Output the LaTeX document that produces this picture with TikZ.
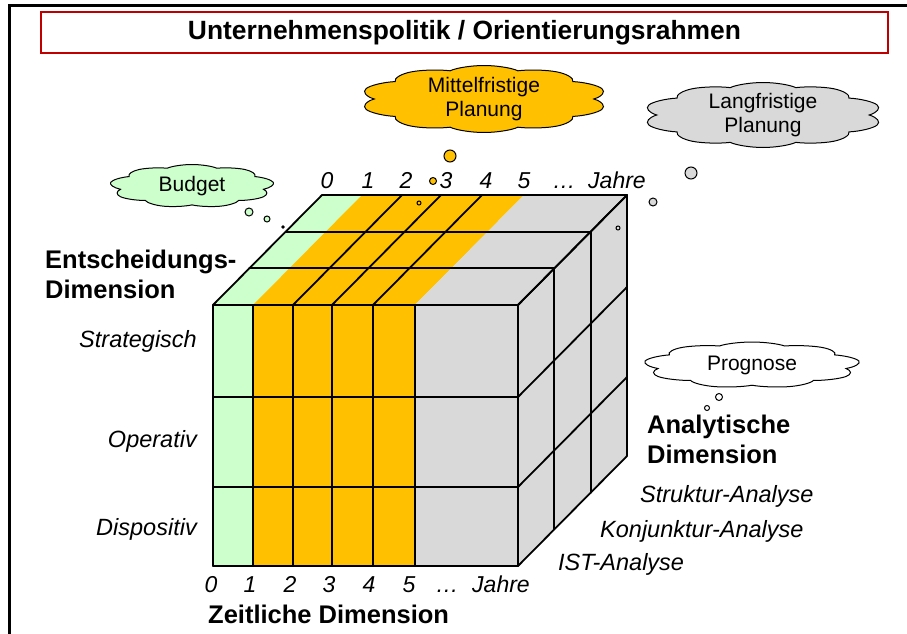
\documentclass[tikz,border=0pt]{standalone}
\usepackage{fontspec}
\setmainfont{Liberation Sans}
\usetikzlibrary{shapes.symbols}
\definecolor{gelb}{HTML}{FFC000}
\definecolor{gruen}{HTML}{CCFFCC}
\definecolor{grau}{HTML}{D9D9D9}
\definecolor{rot}{HTML}{C00000}
\newcommand\meinewolke[8]{%
  \begin{scope}[shift={(#2,#3)}, xscale=#4/60, yscale=#5/60]
    \node[wolke, cloud puffs=#8, fill=#6] (#1) at (0,0) {};
  \end{scope}
  \node[wtext] (#1-t) at (#2,#3) {#7};}
\begin{document}
\begin{tikzpicture}[x=1pt,y=-1pt,
  grid/.style={line width=1.8pt, line join=round, line cap=round},
  itl/.style={font=\fontsize{23.5}{26}\selectfont\itshape, inner sep=0},
  num/.style={font=\fontsize{23}{26}\selectfont\itshape, inner sep=0, anchor=base},
  bfl/.style={font=\fontsize{25.5}{30}\selectfont\bfseries, inner sep=0, anchor=base west},
  wolke/.style={cloud, cloud puff arc=120, cloud ignores aspect, draw, line width=1pt, inner sep=0,
    minimum width=60, minimum height=60, transform shape},
  wtext/.style={inner sep=0, font=\fontsize{21}{24.5}\selectfont, align=center},
  blase/.style={circle, draw, line width=1pt, inner sep=0}]
\useasboundingbox (0,0) rectangle (907,634);

% outer frame
\draw[line width=3pt] (9.5,634) -- (9.5,5.5) -- (907,5.5);

% title
\node[draw=rot, line width=2.5pt, minimum width=847, minimum height=41, inner sep=0,
  font=\fontsize{26.4}{30}\selectfont\bfseries] (titel) at (464.5,32.5)
  {Unternehmenspolitik / Orientierungsrahmen};

% cube fills
\fill[gruen] (213,305) -- (253,305) -- (362,195) -- (322,195) -- cycle;
\fill[gelb] (253,305) -- (415,305) -- (524,195) -- (362,195) -- cycle;
\fill[grau] (415,305) -- (518,305) -- (627,195) -- (524,195) -- cycle;
\fill[grau] (518,305) -- (627,195) -- (627,456) -- (518,566) -- cycle;
\fill[gruen] (213,305) rectangle (253,566);
\fill[gelb] (253,305) rectangle (415,566);
\fill[grau] (415,305) rectangle (518,566);

% cube lines
\foreach \x in {213,253,293,332,373,415,518} \draw[grid] (\x,305) -- (\x,566);
\foreach \y in {305,397,487,566} \draw[grid] (213,\y) -- (518,\y);
\foreach \k in {1,2,3} \draw[grid] ({213+\k*36.333},{305-\k*36.667}) -- ({518+\k*36.333},{305-\k*36.667});
\foreach \x in {213,293,332,373,518} \draw[grid] (\x,305) -- ++(109,-110);
\foreach \y in {305,397,487,566} \draw[grid] (518,\y) -- ++(109,-110);
\foreach \k in {1,2,3} \draw[grid] ({518+\k*36.333},{305-\k*36.667}) -- ({518+\k*36.333},{566-\k*36.667});

% top numbers
\node[num] (t0) at (327,188) {0};
\node[num] (t1) at (368,188) {1};
\node[num] (t2) at (406,188) {2};
\node[num] (t3) at (446,188) {3};
\node[num] (t4) at (486,188) {4};
\node[num] (t5) at (524,188) {5};
\node[num] (tdots) at (564,188) {\dots};
\node[num] (tjahre) at (617,188) {Jahre};

% bottom numbers
\node[num] (b0) at (211,592) {0};
\node[num] (b1) at (250,592) {1};
\node[num] (b2) at (290,592) {2};
\node[num] (b3) at (329,592) {3};
\node[num] (b4) at (369,592) {4};
\node[num] (b5) at (409,592) {5};
\node[num] (bdots) at (447,592) {\dots};
\node[num] (bjahre) at (501,592) {Jahre};

% dimension titles
\node[bfl] (ent1) at (45,268) {Entscheidungs-};
\node[bfl] (ent2) at (45,298) {Dimension};
\node[bfl] (zeit) at (208,623) {Zeitliche Dimension};
\node[bfl] (ana1) at (647,433) {Analytische};
\node[bfl] (ana2) at (647,463) {Dimension};

% left labels
\node[itl, anchor=base east] (strat) at (197,347) {Strategisch};
\node[itl, anchor=base east] (oper) at (197,447) {Operativ};
\node[itl, anchor=base east] (dispo) at (197,535) {Dispositiv};

% right labels
\node[itl, anchor=base west] (struk) at (640,502) {Struktur-Analyse};
\node[itl, anchor=base west] (konj) at (600,537) {Konjunktur-Analyse};
\node[itl, anchor=base west] (ist) at (558,570) {IST-Analyse};

% clouds
\meinewolke{budget}{192}{186}{165}{43}{gruen}{Budget}{9}
\node[blase, fill=gruen, minimum size=8] (bb1) at (249,212) {};
\node[blase, fill=gruen, minimum size=6] (bb2) at (267,219) {};
\node[blase, fill=black, minimum size=2.5] (bb3) at (283,227) {};

\meinewolke{mittel}{484}{99}{248}{67}{gelb}{Mittelfristige\\Planung}{10}
\node[blase, fill=gelb, minimum size=12] (mb1) at (450,156) {};
\node[blase, fill=gelb, minimum size=7] (mb2) at (433,181) {};
\node[blase, fill=gelb, minimum size=4] (mb3) at (419,203) {};

\meinewolke{lang}{763}{115}{240}{65}{grau}{Langfristige\\Planung}{10}
\node[blase, fill=grau, minimum size=12] (lb1) at (691,173) {};
\node[blase, fill=grau, minimum size=8] (lb2) at (653,202) {};
\node[blase, fill=grau, minimum size=4] (lb3) at (618,228) {};

\meinewolke{progn}{752}{365}{217}{46}{white}{Prognose}{9}
\node[blase, fill=white, minimum size=7] (pb1) at (719,397) {};
\node[blase, fill=white, minimum size=5] (pb2) at (707,408) {};
\end{tikzpicture}
\end{document}
